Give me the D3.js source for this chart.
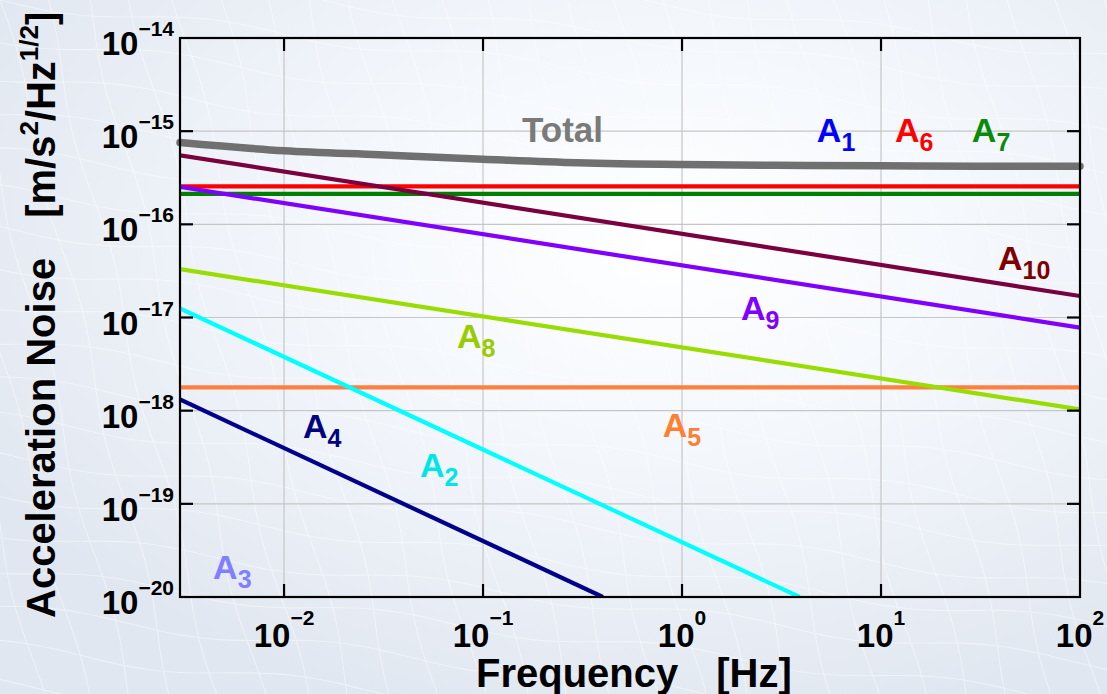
<!DOCTYPE html>
<html>
<head>
<meta charset="utf-8">
<script src="https://cdn.jsdelivr.net/npm/d3@7"></script>
<style>
    html, body { margin: 0; padding: 0; background: #e6ecf4; }
    svg { display: block; font-family: "Liberation Sans", Arial, Helvetica, sans-serif; font-weight: bold; }
</style>
</head>
<body>
<svg id="svg" width="1107" height="694"></svg>
<script>
(function() {
    'use strict';

    // axis ranges and ticks
    var freqDomain = [0.003, 100];
    var noiseDomain = [1e-20, 1e-14];
    var xTicks = [0.01, 0.1, 1, 10, 100];
    var xTickExp = ['\u22122', '\u22121', '0', '1', '2'];
    var yTicks = [1e-20, 1e-19, 1e-18, 1e-17, 1e-16, 1e-15, 1e-14];
    var yTickExp = ['\u221220', '\u221219', '\u221218', '\u221217', '\u221216', '\u221215', '\u221214'];

    var totalFreq = [0.003, 0.01, 0.03, 0.1, 0.3, 1, 3, 10, 30, 100];
    var totalVal = [7.56e-16, 6.17e-16, 5.58e-16, 5.0e-16, 4.58e-16, 4.38e-16, 4.30e-16, 4.26e-16, 4.21e-16, 4.21e-16];

    // contributions (straight lines in log-log, end points)
    var a6Freq = [0.003, 100], a6Val = [2.56e-16, 2.56e-16];
    var a7Freq = [0.003, 100], a7Val = [2.12e-16, 2.12e-16];
    var a5Freq = [0.003, 100], a5Val = [1.78e-18, 1.78e-18];
    var a8Freq = [0.003, 100], a8Val = [3.3e-17, 1.03e-18];
    var a10Freq = [0.003, 100], a10Val = [5.5e-16, 1.7e-17];
    var a9Freq = [0.003, 100], a9Val = [2.52e-16, 7.8e-18];
    var a4Freq = [0.003, 0.40], a4Val = [1.32e-18, 1e-20];
    var a2Freq = [0.003, 3.9], a2Val = [1.25e-17, 1e-20];

    var seriesNames = ['A6', 'A7', 'A5', 'A8', 'A10', 'A9', 'A4', 'A2'];
    var seriesFreq = [a6Freq, a7Freq, a5Freq, a8Freq, a10Freq, a9Freq, a4Freq, a2Freq];
    var seriesVal = [a6Val, a7Val, a5Val, a8Val, a10Val, a9Val, a4Val, a2Val];
    var seriesColor = ['#ff0000', '#008000', '#ff7f40', '#99dd00', '#7a0040', '#8000ff', '#00008c', '#00ffff'];

    // curve labels (anchor = start of text, on the baseline)
    var labelBase = ['Total', 'A', 'A', 'A', 'A', 'A', 'A', 'A', 'A', 'A', 'A'];
    var labelSub = ['', '1', '6', '7', '10', '9', '8', '5', '4', '2', '3'];
    var labelFreq = [0.157, 4.76, 11.75, 28.6, 38.7, 1.98, 0.074, 0.80, 0.01245, 0.0482, 0.0044];
    var labelVal = [7.62e-16, 7.62e-16, 7.62e-16, 7.62e-16, 3.2e-17, 9.3e-18, 4.68e-18, 5.16e-19, 5.13e-19, 1.95e-19, 1.56e-20];
    var labelColor = ['#7a7a7a', '#0000ff', '#ff0000', '#0a8a0a', '#800000', '#8000ff', '#99cc00', '#ff7f33', '#000080', '#00e6e6', '#7f7fff'];

    var W = 1107, H = 694;
    var left = 180, right = 1080, top = 38, bottom = 597;

    var svg = d3.select('#svg');
    var defs = svg.append('defs');

    // soft background glow
    var grad = defs.append('radialGradient')
        .attr('id', 'bg')
        .attr('cx', 0.6).attr('cy', 0.35).attr('r', 0.7);
    grad.append('stop').attr('offset', 0).attr('stop-color', '#ffffff');
    grad.append('stop').attr('offset', 0.45).attr('stop-color', '#f3f7fc');
    grad.append('stop').attr('offset', 1).attr('stop-color', '#e1e7f0');
    svg.append('rect').attr('width', W).attr('height', H).attr('fill', 'url(#bg)');

    // faint wavy mesh in the background
    var mesh = svg.append('g')
        .attr('fill', 'none')
        .attr('stroke', '#ffffff')
        .attr('stroke-width', 1.1)
        .attr('opacity', 0.45);
    var k, t, pts;
    for (k = -2; k < 22; k++) {
        pts = [];
        for (t = -20; t <= W + 20; t += 20) {
            pts.push([t, k * 38 + 0.12 * t + 6 * Math.sin(t / 45 + k)]);
        }
        mesh.append('path').attr('d', d3.line().curve(d3.curveBasis)(pts));
    }
    for (k = -4; k < 30; k++) {
        pts = [];
        for (t = -20; t <= H + 20; t += 20) {
            pts.push([k * 44 + 0.25 * t + 5 * Math.sin(t / 40 + k * 1.3), t]);
        }
        mesh.append('path').attr('d', d3.line().curve(d3.curveBasis)(pts));
    }

    var x = d3.scaleLog().domain(freqDomain).range([left, right]);
    var y = d3.scaleLog().domain(noiseDomain).range([bottom, top]);

    //grid
    svg.append('g').selectAll('line')
        .data(xTicks.slice(0, -1))
        .enter().append('line')
        .attr('x1', function(d) { return x(d); })
        .attr('x2', function(d) { return x(d); })
        .attr('y1', top).attr('y2', bottom)
        .attr('stroke', '#c6c6c6').attr('stroke-width', 1.2);
    svg.append('g').selectAll('line')
        .data(yTicks.slice(1, -1))
        .enter().append('line')
        .attr('y1', function(d) { return y(d); })
        .attr('y2', function(d) { return y(d); })
        .attr('x1', left).attr('x2', right)
        .attr('stroke', '#c6c6c6').attr('stroke-width', 1.2);

    //labels of the curves
    var labels = svg.append('g').selectAll('text')
        .data(labelBase)
        .enter().append('text')
        .attr('x', function(d, i) { return x(labelFreq[i]); })
        .attr('y', function(d, i) { return y(labelVal[i]); })
        .attr('fill', function(d, i) { return labelColor[i]; })
        .attr('font-size', function(d, i) { return i === 0 ? 35 : 34; });
    labels.append('tspan').text(function(d) { return d; });
    labels.append('tspan')
        .attr('font-size', 25)
        .attr('dy', 9)
        .text(function(d, i) { return labelSub[i]; });

    var clip = defs.append('clipPath').attr('id', 'plotclip');
    clip.append('rect').attr('x', left).attr('y', top)
        .attr('width', right - left).attr('height', bottom - top);

    var line = d3.line()
        .x(function(d) { return x(d[0]); })
        .y(function(d) { return y(d[1]); });

    //total
    svg.append('path')
        .datum(d3.zip(totalFreq, totalVal))
        .attr('d', line.curve(d3.curveMonotoneX))
        .attr('fill', 'none')
        .attr('stroke', '#707070')
        .attr('stroke-width', 7.5)
        .attr('stroke-linecap', 'round');

    line.curve(d3.curveLinear);
    svg.append('g')
        .attr('clip-path', 'url(#plotclip)')
        .selectAll('path')
        .data(seriesNames)
        .enter().append('path')
        .attr('d', function(d, i) { return line(d3.zip(seriesFreq[i], seriesVal[i])); })
        .attr('fill', 'none')
        .attr('stroke', function(d, i) { return seriesColor[i]; })
        .attr('stroke-width', 4.2);

    //frame
    svg.append('rect')
        .attr('x', left).attr('y', top)
        .attr('width', right - left).attr('height', bottom - top)
        .attr('fill', 'none').attr('stroke', '#000').attr('stroke-width', 2.2);

    //ticks, pointing inwards on all four sides
    var tl = 13;
    var tickG = svg.append('g').attr('stroke', '#000').attr('stroke-width', 2.2);
    xTicks.slice(0, -1).forEach(function(d) {
        tickG.append('line').attr('x1', x(d)).attr('x2', x(d)).attr('y1', bottom).attr('y2', bottom - tl);
        tickG.append('line').attr('x1', x(d)).attr('x2', x(d)).attr('y1', top).attr('y2', top + tl);
    });
    yTicks.slice(1, -1).forEach(function(d) {
        tickG.append('line').attr('y1', y(d)).attr('y2', y(d)).attr('x1', left).attr('x2', left + tl);
        tickG.append('line').attr('y1', y(d)).attr('y2', y(d)).attr('x1', right).attr('x2', right - tl);
    });

    //tick labels
    var xl = svg.append('g').selectAll('text')
        .data(xTicks)
        .enter().append('text')
        .attr('x', function(d) { return x(d); })
        .attr('y', 647)
        .attr('text-anchor', 'middle')
        .attr('fill', '#000')
        .attr('font-size', 33);
    xl.append('tspan').text('10');
    xl.append('tspan').attr('font-size', 21).attr('dy', -22)
        .text(function(d, i) { return xTickExp[i]; });

    var yl = svg.append('g').selectAll('text')
        .data(yTicks)
        .enter().append('text')
        .attr('x', 174)
        .attr('y', function(d) { return y(d) + 17; })
        .attr('text-anchor', 'end')
        .attr('fill', '#000')
        .attr('font-size', 33);
    yl.append('tspan').text('10');
    yl.append('tspan').attr('font-size', 21).attr('dy', -19)
        .text(function(d, i) { return yTickExp[i]; });

    //axis titles
    var xt = svg.append('text')
        .attr('x', 476).attr('y', 687)
        .attr('fill', '#000').attr('font-size', 40);
    xt.append('tspan').text('Frequency');
    xt.append('tspan').attr('dx', 38).text('[Hz]');

    var yt = svg.append('text')
        .attr('transform', 'translate(55,618) rotate(-90)')
        .attr('fill', '#000').attr('font-size', 40);
    yt.append('tspan').text('Acceleration Noise');
    yt.append('tspan').attr('dx', 40).text('[m/s');
    yt.append('tspan').attr('font-size', 26).attr('dy', -17).text('2');
    yt.append('tspan').attr('dy', 17).text('/Hz');
    yt.append('tspan').attr('font-size', 26).attr('dy', -17).text('1/2');
    yt.append('tspan').attr('dy', 17).text(']');

})();
</script>
</body>
</html>
